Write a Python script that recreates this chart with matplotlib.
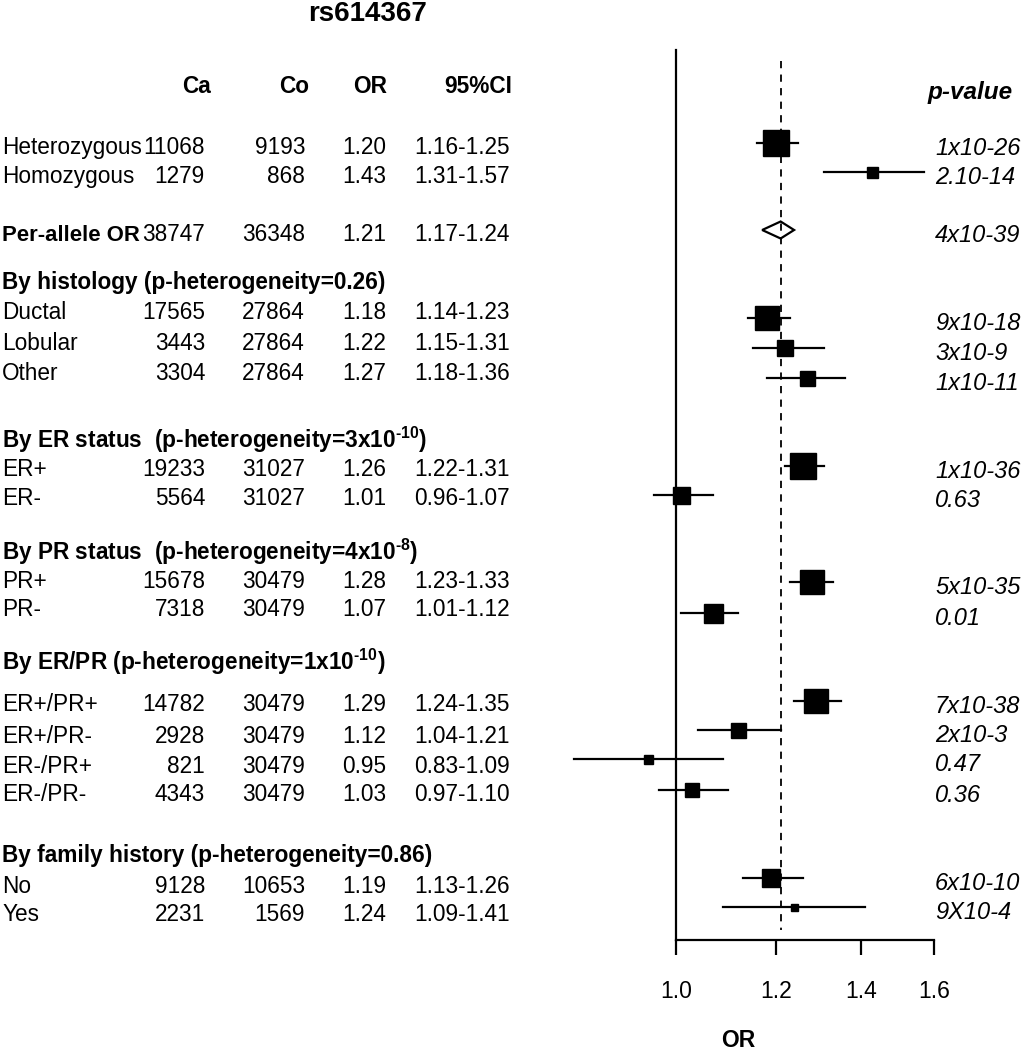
import matplotlib
matplotlib.use('Agg')
import matplotlib.pyplot as plt
from matplotlib.ticker import NullLocator

plt.rcParams['font.family'] = ['Liberation Sans', 'DejaVu Sans']
plt.rcParams['mathtext.fontset'] = 'custom'
plt.rcParams['mathtext.rm'] = 'Liberation Sans'
plt.rcParams['mathtext.bf'] = 'Liberation Sans:bold'
plt.rcParams['mathtext.it'] = 'Liberation Sans:italic'

# data
labels = ["Heterozygous", "Homozygous", "Per-allele OR", "Ductal", "Lobular", "Other",
          "ER+", "ER-", "PR+", "PR-", "ER+/PR+", "ER+/PR-", "ER-/PR+", "ER-/PR-", "No", "Yes"]
cases = [11068, 1279, 38747, 17565, 3443, 3304, 19233, 5564, 15678, 7318,
         14782, 2928, 821, 4343, 9128, 2231]
controls = [9193, 868, 36348, 27864, 27864, 27864, 31027, 31027, 30479, 30479,
            30479, 30479, 30479, 30479, 10653, 1569]
odds = [1.20, 1.43, 1.21, 1.18, 1.22, 1.27, 1.26, 1.01, 1.28, 1.07,
        1.29, 1.12, 0.95, 1.03, 1.19, 1.24]
ci_lo = [1.16, 1.31, 1.17, 1.14, 1.15, 1.18, 1.22, 0.96, 1.23, 1.01,
         1.24, 1.04, 0.83, 0.97, 1.13, 1.09]
ci_hi = [1.25, 1.57, 1.24, 1.23, 1.31, 1.36, 1.31, 1.07, 1.33, 1.12,
         1.35, 1.21, 1.09, 1.10, 1.26, 1.41]
pvals = ["1x10-26", "2.10-14", "4x10-39", "9x10-18", "3x10-9", "1x10-11", "1x10-36", "0.63",
         "5x10-35", "0.01", "7x10-38", "2x10-3", "0.47", "0.36", "6x10-10", "9X10-4"]
groups = ["By histology (p-heterogeneity=0.26)",
          "By ER status  (p-heterogeneity=3x10$^{\\mathbf{\u201010}}$)",
          "By PR status  (p-heterogeneity=4x10$^{\\mathbf{\u20108}}$)",
          "By ER/PR (p-heterogeneity=1x10$^{\\mathbf{\u201010}}$)",
          "By family history (p-heterogeneity=0.86)"]
pooled_row = 2
ref_or = 1.21

# layout (pixels from top)
W, H = 1023, 1050
text_y = [146, 175, 233, 311, 342, 372, 468, 497, 580, 608, 703, 735, 765, 793, 885, 913]
group_y = [281, 440, 552, 662, 854]
mark_y = [143, 172, 230, 318, 348, 378, 466, 495, 582, 613, 701, 730, 759, 790, 878, 907]
box_px = [27, 11, 0, 24, 16, 15, 26, 17, 24, 19, 24, 15, 9, 14, 18, 7]
fs = 16.3


def fx(x):
    return x / W


def fy(y):
    return 1 - y / H


fig = plt.figure(figsize=(W / 100, H / 100), dpi=100)

# table on the left
fig.text(fx(368), fy(14), "rs614367", ha='center', va='center', fontsize=20, fontweight='bold')
for name, xr in [("Ca", 211), ("Co", 309), ("OR", 387), ("95%CI", 512)]:
    fig.text(fx(xr), fy(85 + 8), name, ha='right', va='baseline', fontsize=fs, fontweight='bold')

for i, lab in enumerate(labels):
    yb = fy(text_y[i] + 8)
    if i == pooled_row:
        fig.text(fx(2), yb, lab, ha='left', va='baseline', fontsize=fs - 0.35, fontweight='bold')
    else:
        fig.text(fx(2), yb, lab, ha='left', va='baseline', fontsize=fs)
    fig.text(fx(205), yb, str(cases[i]), ha='right', va='baseline', fontsize=fs)
    fig.text(fx(305), yb, str(controls[i]), ha='right', va='baseline', fontsize=fs)
    fig.text(fx(386), yb, "%.2f" % odds[i], ha='right', va='baseline', fontsize=fs)
    fig.text(fx(510), yb, "%.2f-%.2f" % (ci_lo[i], ci_hi[i]), ha='right', va='baseline', fontsize=fs)

for g, y in zip(groups, group_y):
    fig.text(fx(2), fy(y + 8), g, ha='left', va='baseline', fontsize=fs, fontweight='bold')

# forest plot
ax = fig.add_axes([fx(676), fy(940), fx(934) - fx(676), (940 - 50) / H])
ax.set_xscale('log')
ax.set_xlim(1.0, 1.6)
ax.set_ylim(940, 50)
ax.set_facecolor('none')
for s in ['top', 'right']:
    ax.spines[s].set_visible(False)
ax.spines['left'].set_linewidth(1.6)
ax.spines['bottom'].set_linewidth(1.6)
ax.set_yticks([])
ax.set_xticks([1.0, 1.2, 1.4, 1.6])
ax.set_xticklabels(["1.0", "1.2", "1.4", "1.6"])
ax.xaxis.set_minor_locator(NullLocator())
ax.tick_params(axis='x', direction='out', length=11, width=1.6, pad=18, labelsize=16.5)

ax.vlines(ref_or, 61, 930, colors='black', linestyles=(0, (4, 3.5)), linewidth=1.3, zorder=3)

for i in range(len(odds)):
    y = mark_y[i]
    if i == pooled_row:
        ax.fill([ci_lo[i], odds[i], ci_hi[i], odds[i]], [y, y - 8.5, y, y + 8.5],
                facecolor='white', edgecolor='black', linewidth=1.6, zorder=2)
        continue
    ax.plot([ci_lo[i], ci_hi[i]], [y, y], color='black', linewidth=1.6, clip_on=False, zorder=4)
    ax.plot(odds[i], y, 's', color='black', markersize=box_px[i] * 0.72, clip_on=False, zorder=5)

fig.text(fx(928), fy(90 + 9), "p-value", ha='left', va='baseline', fontsize=17.5,
         fontweight='bold', fontstyle='italic')
for i, p in enumerate(pvals):
    fig.text(fx(935), fy(mark_y[i] + 3 + 9), p, ha='left', va='baseline', fontsize=17,
             fontstyle='italic')

fig.text(fx(738), fy(1047), "OR", ha='center', va='baseline', fontsize=16.5, fontweight='bold')

fig.savefig('out.png', dpi=100)
